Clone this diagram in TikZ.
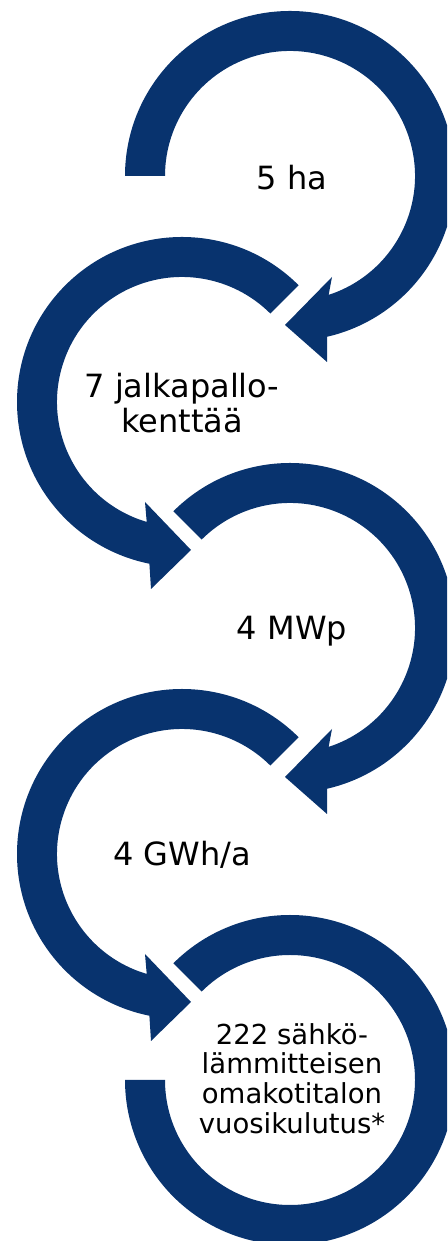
\documentclass[tikz,border=0pt]{standalone}
\usepackage{fontspec}
\setmainfont{DejaVu Sans}
\definecolor{navy}{RGB}{8,51,110}
\begin{document}
\begin{tikzpicture}[x=1pt,y=1pt,
  ring/.style={fill=navy,draw=none},
  lab/.style={text=black,inner sep=0pt,align=center,font=\fontsize{32}{35}\selectfont},
  labsmall/.style={text=black,inner sep=0pt,align=center,font=\fontsize{27.5}{29.7}\selectfont}]
\clip (0,0) rectangle (447,1241);
\useasboundingbox (0,0) rectangle (447,1241);
\coordinate (c1) at (290,1065);
\coordinate (c2) at (182,839);
\coordinate (c3) at (290,613);
\coordinate (c4) at (182,387);
\coordinate (c5) at (290,161);
% circle 1
\fill[ring] ([shift={(180:165)}]c1) arc[start angle=180,end angle=-77,radius=165]
  -- ([shift={(37,-186)}]c1) -- ([shift={(-5,-149)}]c1) -- ([shift={(42,-101)}]c1)
  -- ([shift={(-72:125)}]c1) arc[start angle=-72,end angle=180,radius=125] -- cycle;
% circle 2
\fill[ring] ([shift={(45:165)}]c2) arc[start angle=45,end angle=258.6,radius=165]
  -- ([shift={(-31,-187)}]c2) -- ([shift={(9,-148)}]c2) -- ([shift={(-37,-100)}]c2)
  -- ([shift={(253.6:125)}]c2) arc[start angle=253.6,end angle=45,radius=125] -- cycle;
% circle 3
\fill[ring] ([shift={(135:165)}]c3) arc[start angle=135,end angle=-77,radius=165]
  -- ([shift={(37,-186)}]c3) -- ([shift={(-5,-149)}]c3) -- ([shift={(42,-101)}]c3)
  -- ([shift={(-72:125)}]c3) arc[start angle=-72,end angle=135,radius=125] -- cycle;
% circle 4
\fill[ring] ([shift={(45:165)}]c4) arc[start angle=45,end angle=258.6,radius=165]
  -- ([shift={(-31,-187)}]c4) -- ([shift={(9,-148)}]c4) -- ([shift={(-37,-100)}]c4)
  -- ([shift={(253.6:125)}]c4) arc[start angle=253.6,end angle=45,radius=125] -- cycle;
% circle 5
\fill[ring] ([shift={(135:165)}]c5) arc[start angle=135,end angle=-180,radius=165]
  -- ([shift={(180:125)}]c5) arc[start angle=-180,end angle=135,radius=125] -- cycle;
% labels
\node[lab,anchor=base] (t1) at (292,1051) {5 ha};
\node[lab] (t2) at (182,837.7) {7 jalkapallo-\\kenttää};
\node[lab,anchor=base] (t3) at (292,601) {4 MWp};
\node[lab,anchor=base] (t4) at (182,375) {4 GWh/a};
\node[labsmall] (t5) at (292,162.5) {222 sähkö-\\lämmitteisen\\omakotitalon\\vuosikulutus*};
\end{tikzpicture}
\end{document}
